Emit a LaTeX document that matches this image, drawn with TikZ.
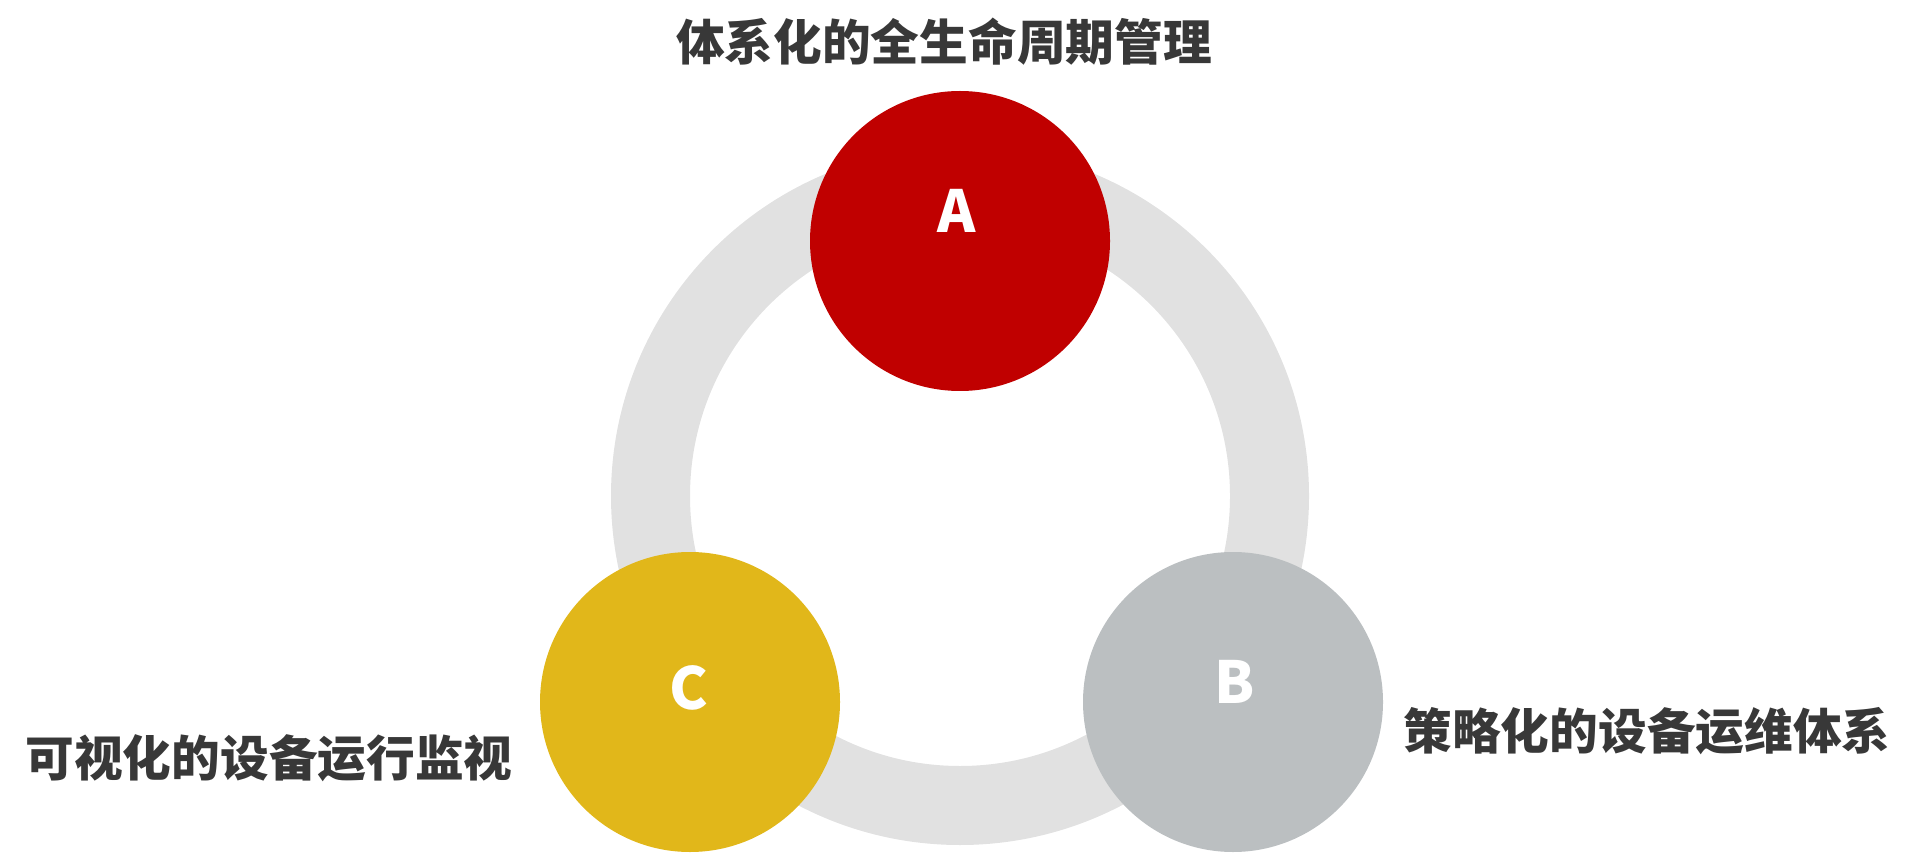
\documentclass[tikz,border=0pt]{standalone}
\usepackage{fontspec}
\usepackage{tikz}
\newfontfamily\cjk{Noto Sans CJK SC}
\definecolor{RingGray}{RGB}{225,225,225}
\definecolor{CRed}{RGB}{192,0,0}
\definecolor{CGrey}{RGB}{187,191,193}
\definecolor{CGold}{RGB}{225,183,26}
\definecolor{TxtDark}{RGB}{56,56,56}

\begin{document}
\begin{tikzpicture}[
            circ/.style={circle, minimum size=3cm, inner sep=0pt},
            letter/.style={font=\cjk\bfseries\fontsize{16.5}{18}\selectfont, text=white, inner sep=0pt},
            lbl/.style={font=\cjk\bfseries\fontsize{13.85}{16}\selectfont, text=TxtDark, inner sep=0pt}
          ]
          \useasboundingbox (0,0) rectangle (19.2,8.54);
          % ring behind the three circles
          \coordinate (ctr) at (9.60, 3.58);
          \draw[RingGray, line width=0.79cm] (ctr) circle (3.095);

          \node[circ, fill=CRed]  (a) at (9.60, 6.13) {};
          \node[circ, fill=CGrey] (b) at (12.33, 1.52) {};
          \node[circ, fill=CGold] (c) at (6.90, 1.52) {};

          \node[letter] (la) at (9.57, 6.43) {A};
          \node[letter] (lb) at (12.35, 1.72) {B};
          \node[letter] (lc) at (6.89, 1.66) {C};

          \node[lbl] (ta) at (9.44, 8.12) {体系化的全生命周期管理};
          \node[lbl] (tb) at (16.47, 1.23) {策略化的设备运维体系};
          \node[lbl] (tc) at (2.69, 0.96) {可视化的设备运行监视};
        \end{tikzpicture}
\end{document}
